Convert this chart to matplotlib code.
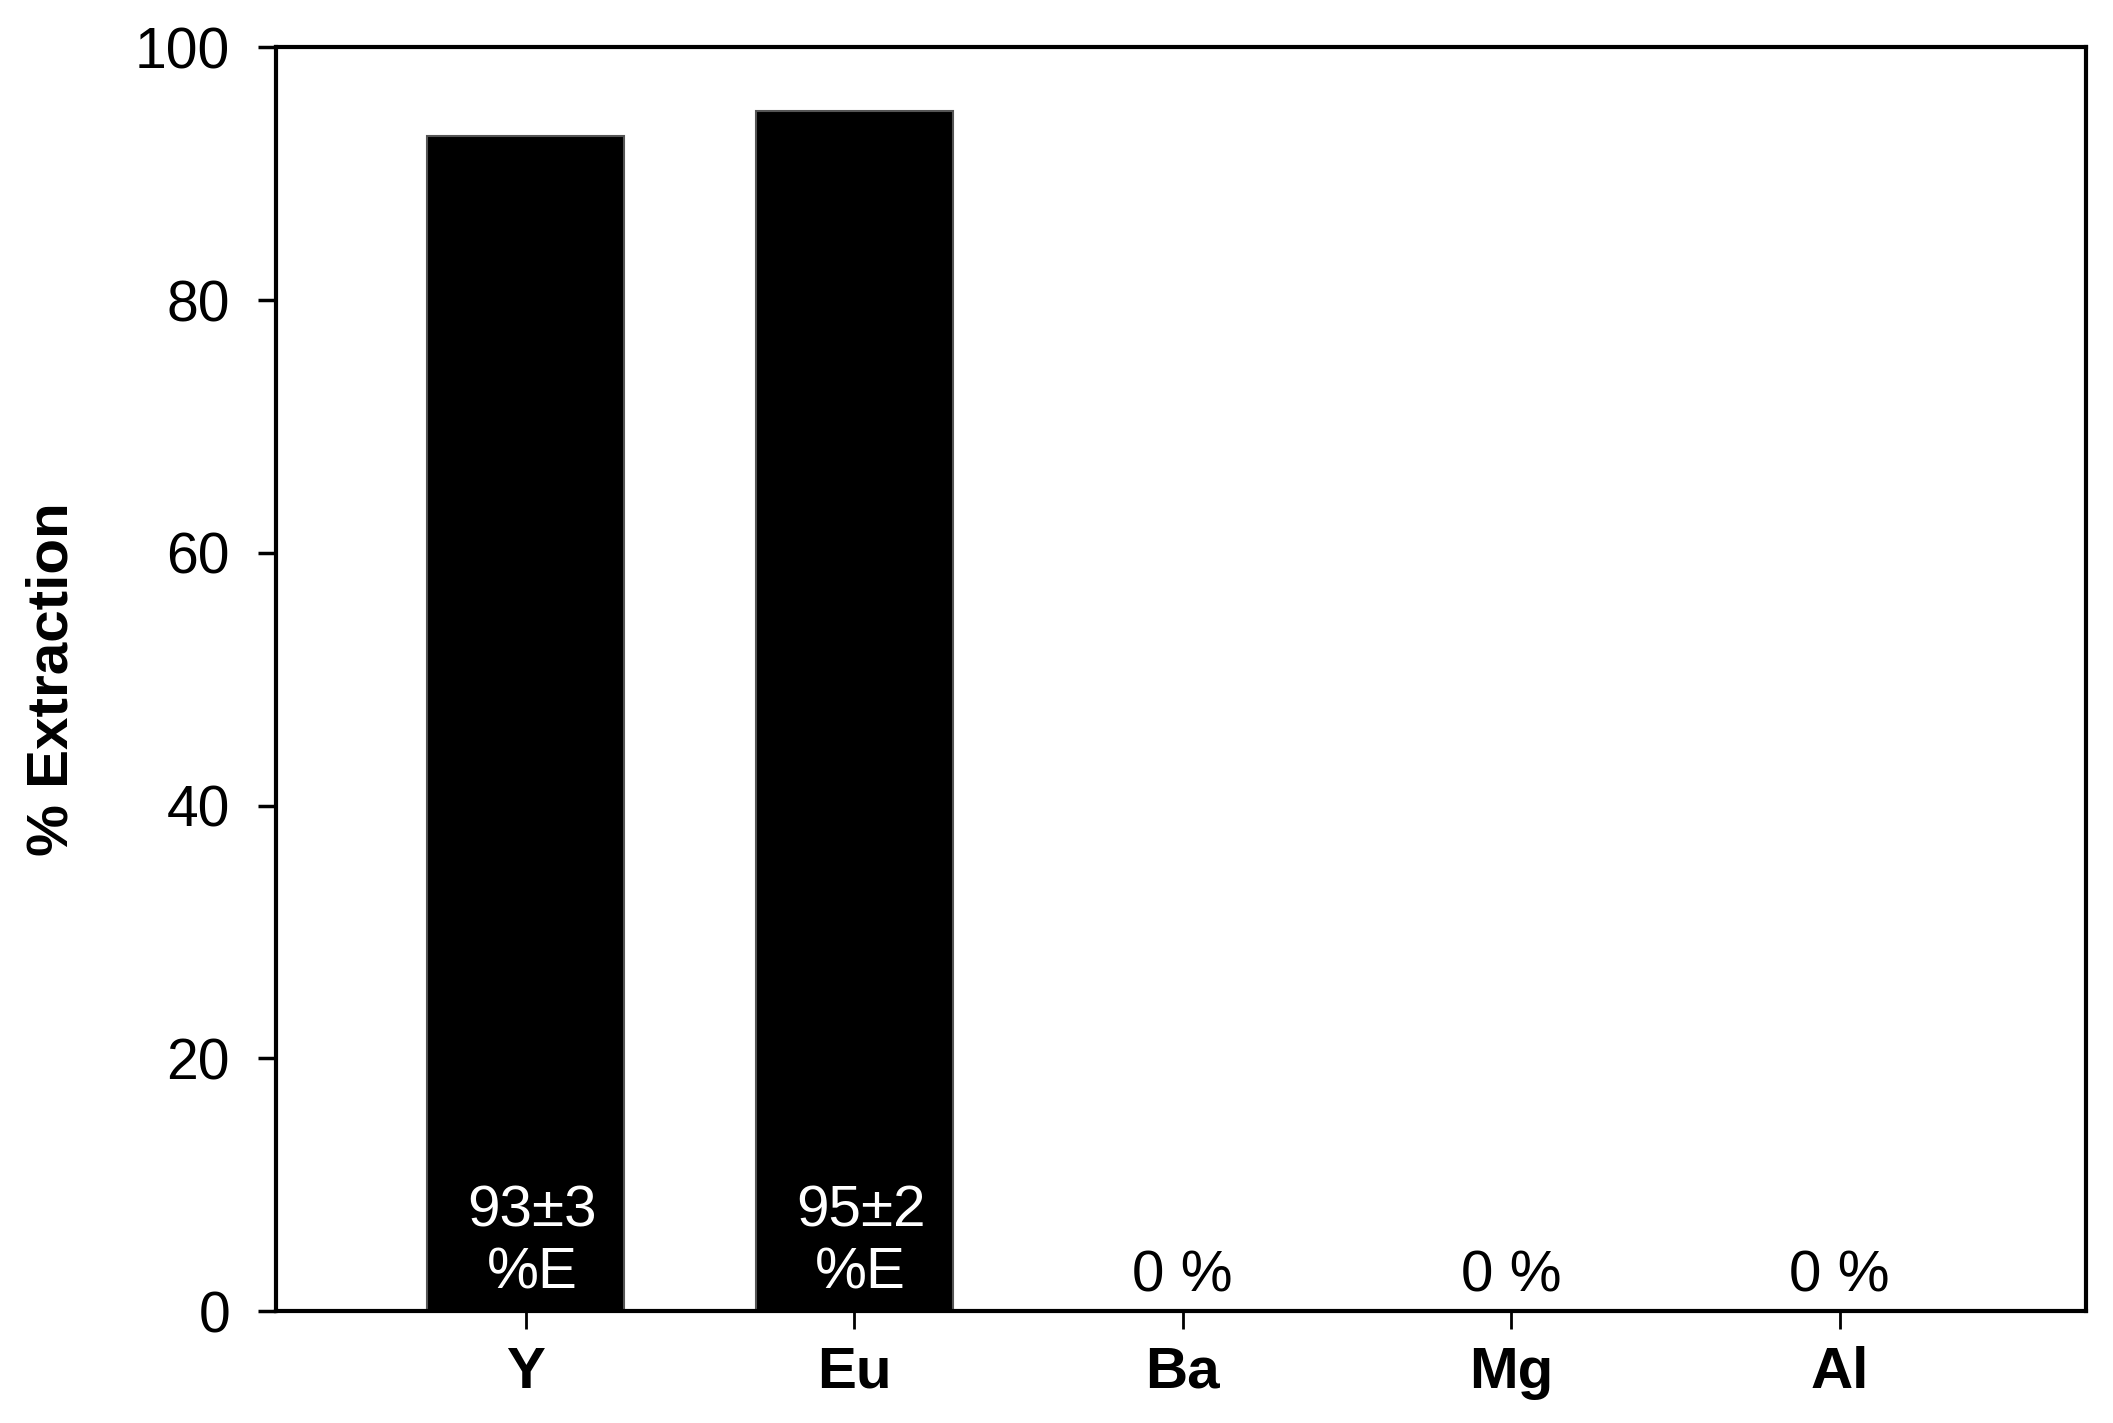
import matplotlib
matplotlib.use('Agg')
import matplotlib.pyplot as plt

plt.rcParams['font.family'] = ['Liberation Sans', 'DejaVu Sans']

elements = ['Y', 'Eu', 'Ba', 'Mg', 'Al']
extraction = [93, 95, 0, 0, 0]
bar_labels = ['93±3\n%E', '95±2\n%E', '0 %', '0 %', '0 %']

fig = plt.figure(figsize=(21.13, 14.23), dpi=100)
ax = fig.add_axes([0.1306, 0.0787, 0.8566, 0.888])

pos = list(range(1, len(elements) + 1))
ax.bar(pos, extraction, width=0.6, color='black', edgecolor='#555555', linewidth=1.5, zorder=2)

for x, v, lab in zip(pos, extraction, bar_labels):
    if v > 0:
        ax.text(x + 0.02, 5.4, lab, ha='center', va='center', color='white',
                fontsize=42, linespacing=1.2, zorder=3)
    else:
        ax.text(x, 2.7, lab, ha='center', va='center', color='black',
                fontsize=42, zorder=3)

ax.set_xlim(0.24, 5.75)
ax.set_ylim(0, 100)
ax.set_xticks(pos)
ax.set_xticklabels(elements, fontsize=42, fontweight='bold')
ax.set_yticks([0, 20, 40, 60, 80, 100])
ax.tick_params(axis='y', labelsize=41, direction='out', length=13, width=2.5, pad=20)
ax.tick_params(axis='x', direction='out', length=13, width=2, pad=12)
ax.set_ylabel('% Extraction', fontsize=42, fontweight='bold', labelpad=40)

for s in ax.spines.values():
    s.set_linewidth(3)

fig.savefig('out.png', dpi=100)
